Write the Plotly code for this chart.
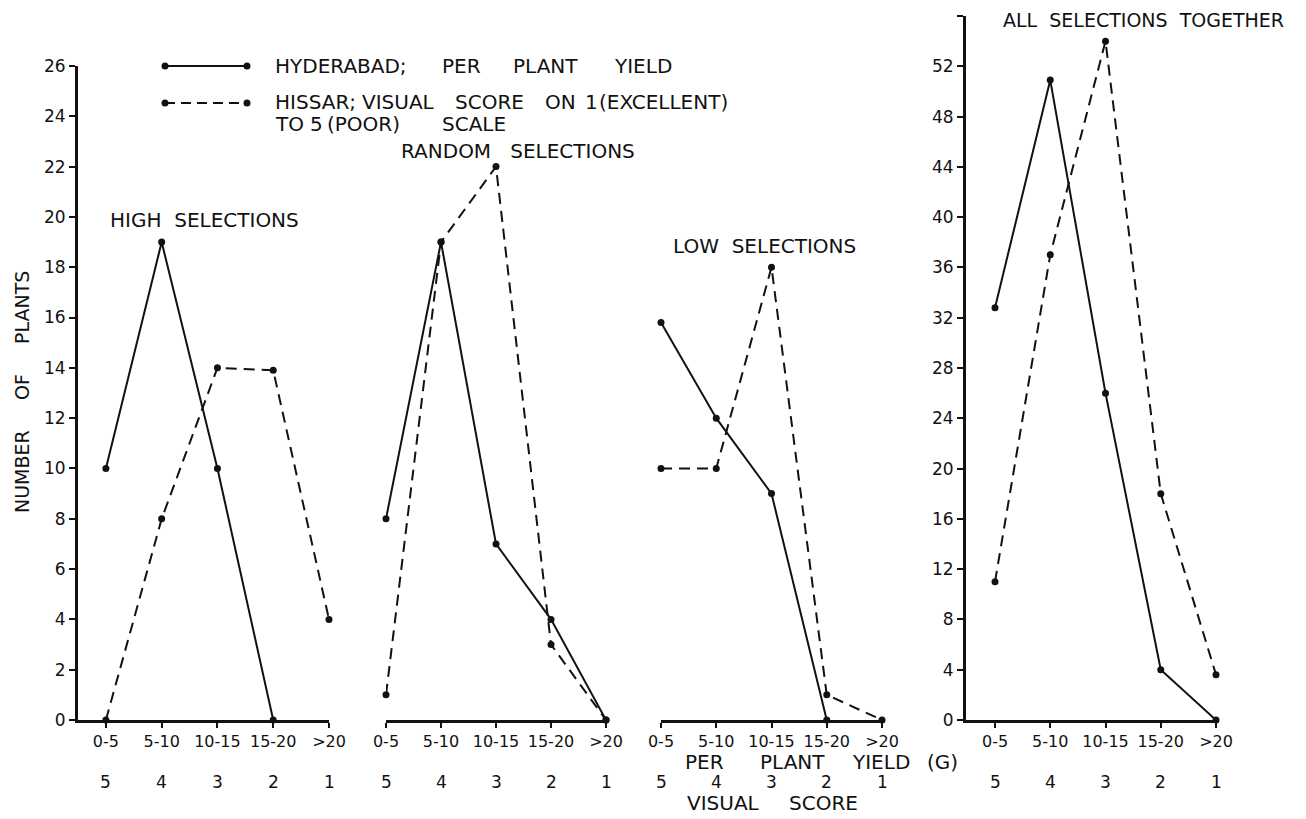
import plotly.graph_objects as go

# figure is placed at an 8px page offset; coordinates below are in page pixels
OFF = 8
W, H = 1306 - OFF, 819 - OFF

categories = ["0-5", "5-10", "10-15", "15-20", ">20"]
visual_scores = ["5", "4", "3", "2", "1"]

# Hyderabad: per plant yield (solid); Hissar: visual score (dashed)
high_hyd = [10, 19, 10, 0]
high_his = [0, 8, 14, 13.9, 4]
random_hyd = [8, 19, 7, 4, 0]
random_his = [1, 19, 22, 3, 0]
low_hyd = [15.8, 12, 9, 0]
low_his = [10, 10, 18, 1, 0]
all_hyd = [32.8, 50.9, 26, 4, 0]
all_his = [11, 37, 54, 18, 3.6]

panel_titles = ["HIGH SELECTIONS", "RANDOM SELECTIONS", "LOW SELECTIONS", "ALL SELECTIONS TOGETHER"]

FONT = "DejaVu Sans"
BLACK = "#111111"
NB = "\u00a0"


def px(x):
    return (x - OFF) / W


def py(y):
    return 1 - (y - OFF) / H


fig = go.Figure()


def add_series(vals, xa, ya, dashed):
    fig.add_trace(go.Scatter(
        x=list(range(len(vals))), y=vals, xaxis=xa, yaxis=ya,
        mode="lines+markers", cliponaxis=False, showlegend=False,
        line=dict(color=BLACK, width=2, dash="11px,7px" if dashed else "solid"),
        marker=dict(color=BLACK, size=7),
    ))


add_series(high_hyd, "x", "y", False)
add_series(high_his, "x", "y", True)
add_series(random_hyd, "x2", "y", False)
add_series(random_his, "x2", "y", True)
add_series(low_hyd, "x3", "y", False)
add_series(low_his, "x3", "y", True)
add_series(all_hyd, "x4", "y2", False)
add_series(all_his, "x4", "y2", True)

y0 = 720
xcommon = dict(
    showline=True, linewidth=3, linecolor=BLACK, ticks="outside", ticklen=5,
    tickwidth=2, tickcolor=BLACK, tickvals=list(range(5)), ticktext=categories,
    showgrid=False, zeroline=False, automargin=False,
    tickfont=dict(family=FONT, size=16, color=BLACK), anchor="y", fixedrange=True,
)
ycommon = dict(
    showline=True, linewidth=3, linecolor=BLACK, ticks="outside", ticklen=6,
    tickwidth=2, tickcolor=BLACK, showgrid=False, zeroline=False, automargin=False,
    tickfont=dict(family=FONT, size=17, color=BLACK),
)

fig.update_layout(
    width=W, height=H, margin=dict(l=0, r=0, t=0, b=0),
    paper_bgcolor="white", plot_bgcolor="white",
    xaxis=dict(**xcommon, domain=[px(78), px(329)], range=[-0.5, 4]),
    xaxis2=dict(**xcommon, domain=[px(386), px(606)], range=[0, 4]),
    xaxis3=dict(**xcommon, domain=[px(661), px(882)], range=[0, 4]),
    xaxis4=dict(**{**xcommon, "anchor": "y2"}, domain=[px(966), px(1216)], range=[-0.525, 4]),
    yaxis=dict(**ycommon, domain=[py(y0), py(66)], range=[0, 26], dtick=2, anchor="x"),
    yaxis2=dict(**ycommon, domain=[py(y0), py(16)], range=[0, 56], dtick=4, anchor="x4"),
)

ann = []
# second row: visual score labels
for xa in ["x", "x2", "x3", "x4"]:
    for i, s in enumerate(visual_scores):
        ann.append(dict(x=i, y=py(782), xref=xa, yref="paper", text=s, showarrow=False,
                        xanchor="center", yanchor="middle",
                        font=dict(family=FONT, size=17, color=BLACK)))


def txt(x, y, t, size=20, xanchor="center", **kw):
    ann.append(dict(x=px(x), y=py(y), xref="paper", yref="paper", text=t, showarrow=False,
                    xanchor=xanchor, yanchor="middle",
                    font=dict(family=FONT, size=size, color=BLACK), **kw))


def words(y, items, size=20):
    for x, w in items:
        txt(x, y, w, size=size, xanchor="left")


txt(204, 220, panel_titles[0].replace(" ", NB * 2))
txt(518, 151, panel_titles[1].replace(" ", NB * 3))
txt(764, 246, panel_titles[2].replace(" ", NB * 2))
txt(1143, 20, panel_titles[3].replace(" ", NB * 2), size=19)

words(762, [(683, "PER"), (758, "PLANT"), (850, "YIELD"), (925, "(G)")])
words(803, [(685, "VISUAL"), (787, "SCORE")])

txt(22, 392, "NUMBER" + NB * 5 + "OF" + NB * 5 + "PLANTS", size=19, textangle=-90)

# legend text
words(66, [(273, "HYDERABAD;"), (440, "PER"), (511, "PLANT"), (612, "YIELD")])
words(102, [(273, "HISSAR;"), (360, "VISUAL"), (453, "SCORE"), (543, "ON"), (583, "1"),
            (597, "(EXCELLENT)")])
words(124, [(273, "TO"), (308, "5"), (325, "(POOR)"), (440, "SCALE")])

shapes = []
for yy, dash in [(66, "solid"), (103, "10px,6px")]:
    shapes.append(dict(type="line", xref="paper", yref="paper", x0=px(165), x1=px(247),
                       y0=py(yy), y1=py(yy), line=dict(color=BLACK, width=2, dash=dash)))
    for xx in (165, 247):
        shapes.append(dict(type="circle", xref="paper", yref="paper",
                           x0=px(xx - 3.5), x1=px(xx + 3.5), y0=py(yy - 3.5), y1=py(yy + 3.5),
                           fillcolor=BLACK, line=dict(color=BLACK, width=0)))

fig.update_layout(annotations=ann, shapes=shapes)
fig.write_html("out.html")
